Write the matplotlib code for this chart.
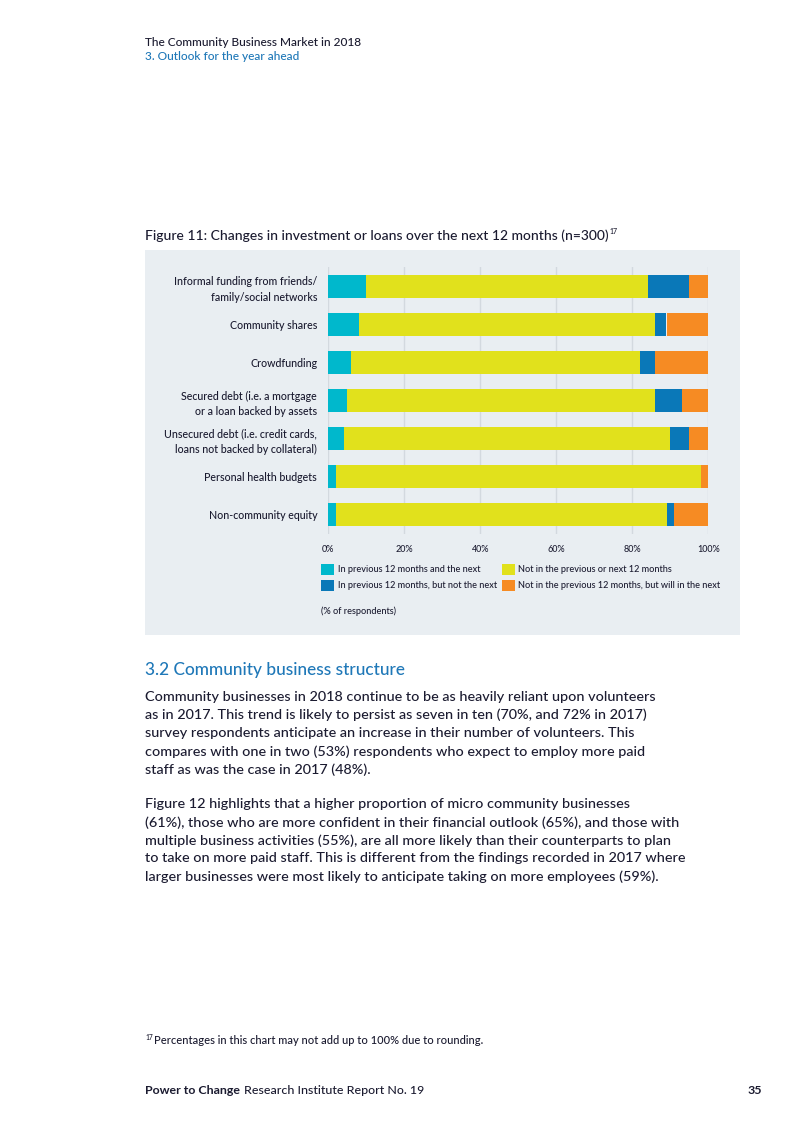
import matplotlib
matplotlib.use("Agg")
import matplotlib.pyplot as plt
from matplotlib.patches import Rectangle, Patch
import numpy as np

categories = [
    "Informal funding from friends/\nfamily/social networks",
    "Community shares",
    "Crowdfunding",
    "Secured debt (i.e. a mortgage\nor a loan backed by assets",
    "Unsecured debt (i.e. credit cards,\nloans not backed by collateral)",
    "Personal health budgets",
    "Non-community equity",
]
prev_and_next = [10, 8, 6, 5, 4, 2, 2]
not_prev_nor_next = [74, 78, 76, 81, 86, 96, 87]
prev_not_next = [11, 3, 4, 7, 5, 0, 2]
next_not_prev = [5, 11, 14, 7, 5, 2, 9]
series_names = [
    "In previous 12 months and the next",
    "Not in the previous or next 12 months",
    "In previous 12 months, but not the next",
    "Not in the previous 12 months, but will in the next",
]
xticks = [0, 20, 40, 60, 80, 100]
xtick_labels = ["0%", "20%", "40%", "60%", "80%", "100%"]

colors = ["#00b8cc", "#e1e11c", "#0a78b8", "#f68b23"]

W, H = 800, 1132
fig = plt.figure(figsize=(W / 100, H / 100), dpi=100)
fig.patch.set_facecolor("white")
FONT = "Lato"
MED = 500
DARK = "#1b1b30"
BLUE = "#1f78b8"


def fx(px):
    return px / W


def fy(py):
    return 1 - py / H


renderer = fig.canvas.get_renderer()


def fit(text, target, size0=10, **kw):
    t = fig.text(0, 0, text, fontsize=size0, **kw)
    w = t.get_window_extent(renderer=renderer).width
    t.remove()
    return size0 * target / w


def width_px(t):
    return t.get_window_extent(renderer=renderer).width


# panel background
fig.patches.append(Rectangle((fx(145), fy(635)), fx(740) - fx(145), fy(250) - fy(635),
                             transform=fig.transFigure, facecolor="#e9eef2",
                             edgecolor="none", zorder=-5))

# header
s = fit("The Community Business Market in 2018", 218, family=FONT, weight=MED)
fig.text(fx(145), fy(42.5), "The Community Business Market in 2018", fontsize=s,
         family=FONT, weight=MED, color=DARK, va="center")
fig.text(fx(145), fy(57), "3. Outlook for the year ahead", fontsize=s,
         family=FONT, weight=MED, color=BLUE, va="center")

# figure title
ttl = "Figure 11: Changes in investment or loans over the next 12 months (n=300)"
s = fit(ttl, 465, family=FONT, weight=MED)
tt = fig.text(fx(145), fy(236), ttl, fontsize=s, family=FONT, weight=MED,
              color=DARK, va="center")
fig.text(fx(145 + width_px(tt) + 1), fy(231), "17", fontsize=s * 0.5, family=FONT,
         weight=MED, color=DARK, va="center")

# bars
ax = fig.add_axes([fx(328.3), fy(534), fx(708.3) - fx(328.3), fy(267) - fy(534)])
ax.set_facecolor("none")
ax.set_zorder(2)
y = np.arange(len(categories))
order = [prev_and_next, not_prev_nor_next, prev_not_next, next_not_prev]
left = np.zeros(len(categories))
for vals, c in zip(order, colors):
    ax.barh(y, vals, left=left, height=0.6, color=c, edgecolor="none", zorder=3)
    left += np.array(vals)
ax.set_xlim(0, 100)
ax.set_ylim(len(categories) - 0.5, -0.5)
lab_size = fit("Informal funding from friends/", 144, family=FONT, weight=MED)
tick_size = fit("100%", 23, family=FONT, weight=MED)
ax.set_yticks(y)
ax.set_yticklabels(categories, fontsize=lab_size, family=FONT, weight=MED,
                   color=DARK, linespacing=1.5)
ax.set_xticks(xticks)
ax.set_xticklabels(xtick_labels, fontsize=tick_size, family=FONT, weight=MED, color=DARK)
ax.tick_params(axis="y", length=0, pad=8)
ax.tick_params(axis="x", length=0, pad=8)
for sp in ax.spines.values():
    sp.set_visible(False)
ax.grid(axis="x", color="#d3d9df", linewidth=1, zorder=0)

leg_size = fit(series_names[0], 143, family=FONT, weight=MED)
handles = [Patch(facecolor=colors[0]), Patch(facecolor=colors[2]),
           Patch(facecolor=colors[1]), Patch(facecolor=colors[3])]
labels = [series_names[0], series_names[2], series_names[1], series_names[3]]
fig.legend(handles, labels, loc="upper left", bbox_to_anchor=(fx(313), fy(556)),
           ncol=2, frameon=False, handlelength=1.4, handleheight=1.4,
           handletextpad=0.4, columnspacing=0.6, labelspacing=0.6,
           prop={"family": FONT, "size": leg_size, "weight": MED}, labelcolor=DARK)
fig.text(fx(321), fy(611), "(% of respondents)", fontsize=leg_size, family=FONT,
         weight=MED, color=DARK, va="center")

# section heading
s = fit("3.2 Community business structure", 260, family=FONT, weight=MED)
fig.text(fx(145), fy(670), "3.2 Community business structure", fontsize=s,
         family=FONT, weight=MED, color=BLUE, va="center")

para1 = [
    "Community businesses in 2018 continue to be as heavily reliant upon volunteers",
    "as in 2017. This trend is likely to persist as seven in ten (70%, and 72% in 2017)",
    "survey respondents anticipate an increase in their number of volunteers. This",
    "compares with one in two (53%) respondents who expect to employ more paid",
    "staff as was the case in 2017 (48%).",
]
para2 = [
    "Figure 12 highlights that a higher proportion of micro community businesses",
    "(61%), those who are more confident in their financial outlook (65%), and those with",
    "multiple business activities (55%), are all more likely than their counterparts to plan",
    "to take on more paid staff. This is different from the findings recorded in 2017 where",
    "larger businesses were most likely to anticipate taking on more employees (59%).",
]
s = fit(para1[0], 513, family=FONT, weight=MED)
for i, line in enumerate(para1):
    fig.text(fx(145), fy(697 + i * 18.1), line, fontsize=s, family=FONT,
             weight=MED, color=DARK, va="center")
for i, line in enumerate(para2):
    fig.text(fx(145), fy(804.5 + i * 18.0), line, fontsize=s, family=FONT,
             weight=MED, color=DARK, va="center")

# footnote
fn = "Percentages in this chart may not add up to 100% due to rounding."
s = fit(fn, 328, family=FONT, weight=MED)
fig.text(fx(145), fy(1037), "17", fontsize=s * 0.6, family=FONT, weight=MED,
         color=DARK, va="center")
fig.text(fx(154), fy(1040), fn, fontsize=s, family=FONT,
         weight=MED, color=DARK, va="center")

# footer
s = fit("Power to Change", 95, family=FONT, weight="bold")
t1 = fig.text(fx(145), fy(1090), "Power to Change", fontsize=s, family=FONT,
              weight="bold", color=DARK, va="center")
w1 = width_px(t1)
fig.text(fx(145 + w1 + 4), fy(1090), "Research Institute Report No. 19", fontsize=s,
         family=FONT, weight=MED, color=DARK, va="center")
fig.text(fx(762), fy(1090), "35", fontsize=s, family=FONT, weight="bold",
         color=DARK, va="center", ha="right")

fig.savefig("out.png", dpi=100)
